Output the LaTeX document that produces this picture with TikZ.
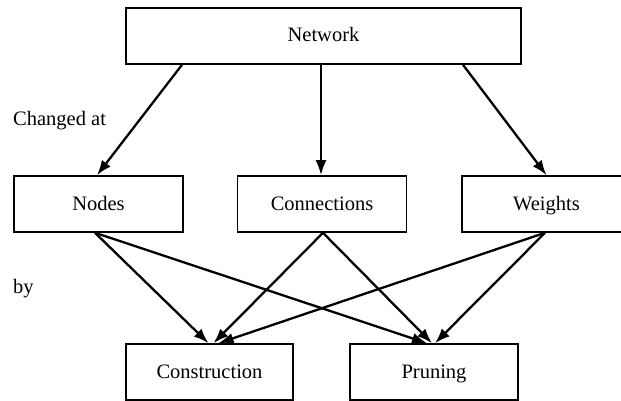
\documentclass[tikz,border=0pt]{standalone}
\usepackage{fontspec}
\setmainfont{Liberation Serif}
\usetikzlibrary{arrows.meta}

\begin{document}
\begin{tikzpicture}[x=1pt,y=-1pt,
    box/.style={draw, line width=1.6pt, minimum width=169pt, minimum height=56pt, text height=15pt, text depth=3pt, font=\fontsize{20.5}{24}\selectfont},
    link/.style={line width=2.3pt, -{Latex[length=15pt,width=11pt]}}]
        \useasboundingbox (0,0) rectangle (621,401);
        % Nodes
        \node (net) at (323.5,36) [box, minimum width=395pt] {Network};
        \node (nodes) at (98.5,204) [box] {Nodes};
        \node (conn) at (322,204) [box] {Connections};
        \node (wts) at (546.5,204) [box] {Weights};
        \node (cons) at (209.5,372) [box, minimum width=167pt] {Construction};
        \node (prun) at (434,372) [box, minimum width=168pt] {Pruning};
        % Labels
        \node (lchg) at (13,126) [anchor=base west, font=\fontsize{20.5}{24}\selectfont, inner sep=0pt] {Changed at};
        \node (lby) at (13,293) [anchor=base west, font=\fontsize{20.5}{24}\selectfont, inner sep=0pt] {by};
        
        % Edges
        \draw[link] ([xshift=-141.5pt]net.south) -- ([xshift=-1.5pt]nodes.north);
        \draw[link] ([xshift=-2.5pt]net.south) -- ([xshift=-1pt]conn.north);
        \draw[link] ([xshift=139.5pt]net.south) -- (wts.north);
        
        \draw[link] ([xshift=-3.5pt]nodes.south) -- ([xshift=-1pt]cons.north);
        \draw[link] ([xshift=-3.5pt]nodes.south) -- ([xshift=-7pt]prun.north);
        \draw[link] ([xshift=1pt]conn.south) -- ([xshift=4pt]cons.north);
        \draw[link] ([xshift=1pt]conn.south) -- ([xshift=-2pt]prun.north);
        \draw[link] ([xshift=-1.5pt]wts.south) -- ([xshift=9pt]cons.north);
        \draw[link] ([xshift=-1.5pt]wts.south) -- ([xshift=1pt]prun.north);
    \end{tikzpicture}
\end{document}
